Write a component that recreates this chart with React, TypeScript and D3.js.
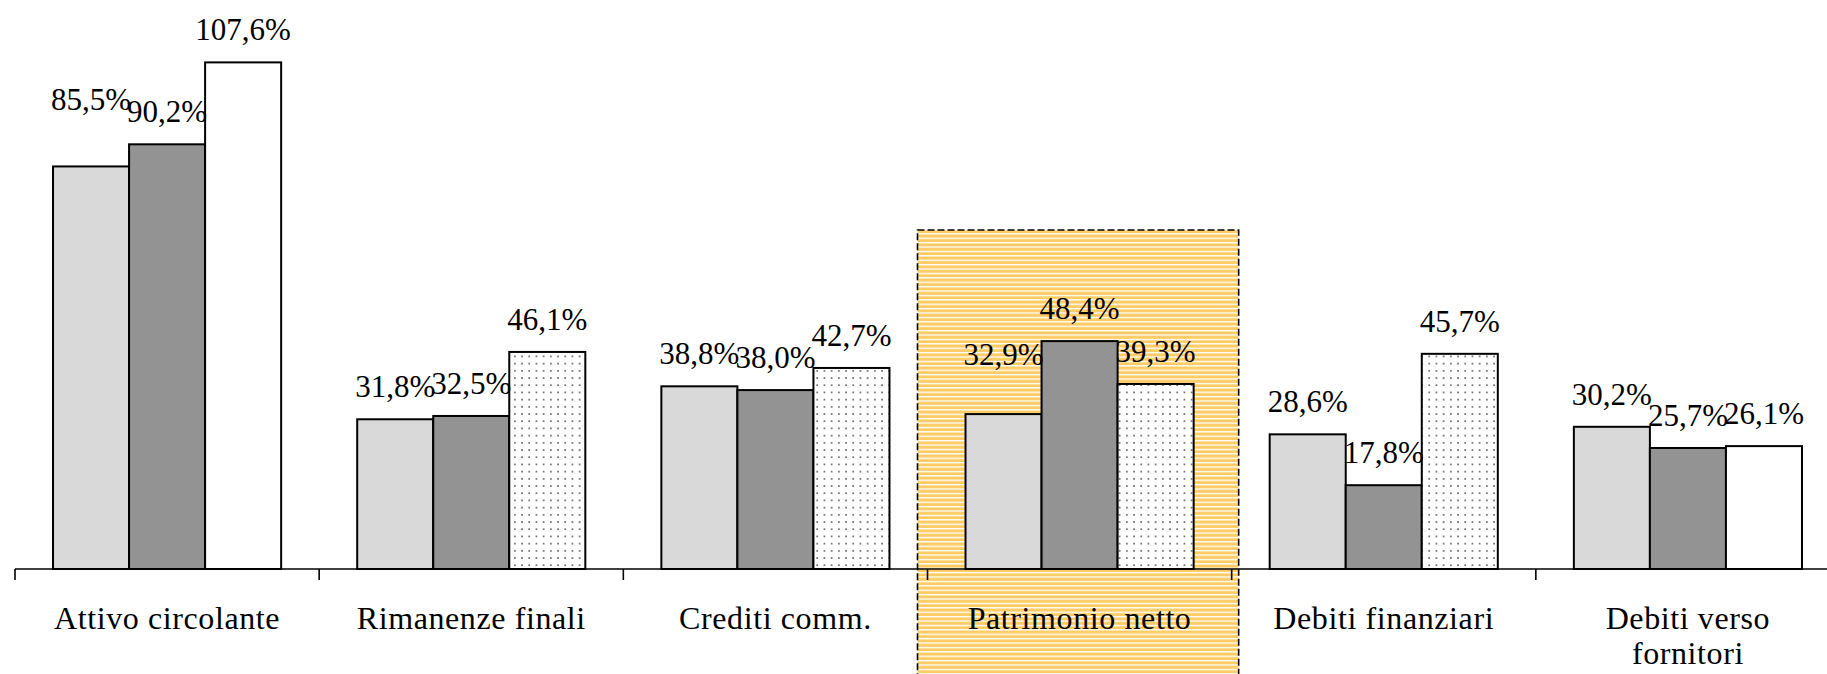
import React from "react";
import * as d3 from "d3";

const categories: string[][] = [
  ["Attivo circolante"],
  ["Rimanenze finali"],
  ["Crediti comm."],
  ["Patrimonio netto"],
  ["Debiti finanziari"],
  ["Debiti verso", "fornitori"],
];
const series1 = [85.5, 31.8, 38.8, 32.9, 28.6, 30.2];
const series2 = [90.2, 32.5, 38.0, 48.4, 17.8, 25.7];
const series3 = [107.6, 46.1, 42.7, 39.3, 45.7, 26.1];
// which categories show the third series with a dotted fill
const series3Dotted = [false, true, true, true, true, false];
// extra upward shift of a few data labels (avoid overlaps, as in the original)
const labelExtraLift = [
  [34, 0, 0],
  [0, 0, 0],
  [0, 0, 0],
  [27, 0, 0],
  [0, 0, 0],
  [0, 0, 0],
];
const highlightIndex = 3;

const W = 1827;
const H = 674;
const FONT = "Liberation Serif";

export default function App() {
  const x = d3
    .scaleBand<number>()
    .domain(categories.map((_, i) => i))
    .range([15, 1840])
    .paddingInner(0)
    .paddingOuter(0);
  const bw = x.bandwidth();
  const sub = d3
    .scaleBand<number>()
    .domain([0, 1, 2])
    .range([bw * 0.125, bw * 0.875]);
  const y = d3.scaleLinear().domain([0, 120]).range([569, 4]);
  const base = y(0);
  const all = [series1, series2, series3];
  const fills = ["#d9d9d9", "#939393", "#ffffff"];
  const fmt = (v: number) => v.toFixed(1).replace(".", ",") + "%";

  const hx0 = (x(highlightIndex) as number) - 10;
  const hx1 = (x(highlightIndex) as number) + bw + 7;
  const hy0 = y(72);

  const ticks = d3.range(categories.length + 1).map((i) => 15 + i * bw);
  const labelStyle = { fontFamily: FONT, fontSize: "31px" } as React.CSSProperties;
  const catStyle = { fontFamily: FONT, fontSize: "32px", letterSpacing: "0.6px" } as React.CSSProperties;

  return (
    <svg
      width={W}
      height={H}
      style={{ position: "absolute", left: 0, top: 0, background: "#fff" }}
    >
      <defs>
        <pattern id="dots" patternUnits="userSpaceOnUse" width={7.2} height={7.2}>
          <rect width={7.2} height={7.2} fill="#fff" />
          <rect x={3} y={3} width={1.3} height={1.3} fill="#000" />
        </pattern>
        <pattern id="stripes" patternUnits="userSpaceOnUse" width={10} height={4.4}>
          <rect width={10} height={4.4} fill="#ffcc66" />
          <rect y={0} width={10} height={1.3} fill="#ffffff" />
        </pattern>
      </defs>

      {/* highlight box */}
      <rect
        x={hx0}
        y={hy0}
        width={hx1 - hx0}
        height={H - hy0 + 10}
        fill="url(#stripes)"
        stroke="#000"
        strokeWidth={1.6}
        strokeDasharray="7 3"
      />

      {/* bars */}
      {categories.map((_, ci) =>
        all.map((s, si) => {
          const bx = (x(ci) as number) + (sub(si) as number);
          const top = y(s[ci]);
          const fill = si === 2 && series3Dotted[ci] ? "url(#dots)" : fills[si];
          return (
            <rect
              key={`b-${ci}-${si}`}
              x={bx}
              y={top}
              width={sub.bandwidth()}
              height={base - top}
              fill={fill}
              stroke="#000"
              strokeWidth={2}
            />
          );
        })
      )}

      {/* axis */}
      <line x1={15} x2={W} y1={base} y2={base} stroke="#000" strokeWidth={1.6} />
      {ticks.map((t, i) => (
        <line key={`t-${i}`} x1={t} x2={t} y1={base} y2={base + 11} stroke="#000" strokeWidth={1.6} />
      ))}

      {/* data labels */}
      {categories.map((_, ci) =>
        all.map((s, si) => {
          const cx = (x(ci) as number) + (sub(si) as number) + sub.bandwidth() / 2;
          const yy = y(s[ci]) - 22 - labelExtraLift[ci][si];
          return (
            <text key={`l-${ci}-${si}`} x={cx} y={yy} textAnchor="middle" style={labelStyle} fill="#000">
              {fmt(s[ci])}
            </text>
          );
        })
      )}

      {/* category labels */}
      {categories.map((lines, ci) => (
        <text
          key={`c-${ci}`}
          x={(x(ci) as number) + bw / 2}
          y={629}
          textAnchor="middle"
          style={catStyle}
          fill="#000"
        >
          {lines.map((ln, li) => (
            <tspan key={li} x={(x(ci) as number) + bw / 2} dy={li === 0 ? 0 : 35}>
              {ln}
            </tspan>
          ))}
        </text>
      ))}
    </svg>
  );
}
